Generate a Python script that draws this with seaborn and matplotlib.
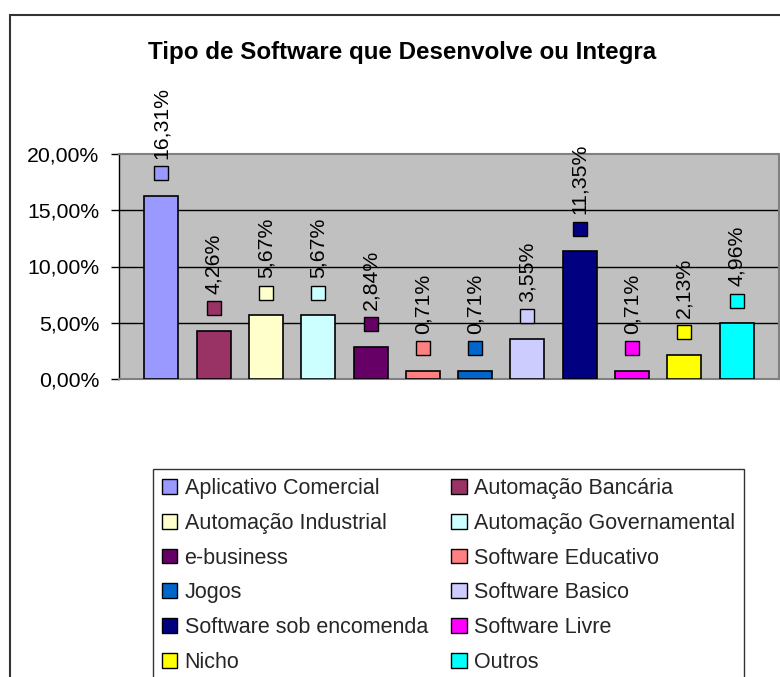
import numpy as np
import pandas as pd
import matplotlib
matplotlib.use("Agg")
import matplotlib.pyplot as plt
import matplotlib.patches as mpatches
from matplotlib.transforms import offset_copy
import seaborn as sns

# --- data ---
categories = [
    "Aplicativo Comercial", "Automação Bancária", "Automação Industrial",
    "Automação Governamental", "e-business", "Software Educativo", "Jogos",
    "Software Basico", "Software sob encomenda", "Software Livre", "Nicho", "Outros",
]
values = [16.31, 4.26, 5.67, 5.67, 2.84, 0.71, 0.71, 3.55, 11.35, 0.71, 2.13, 4.96]
colors = [
    "#9999FF", "#993366", "#FFFFCC", "#CCFFFF", "#660066", "#FF8080",
    "#0066CC", "#CCCCFF", "#000080", "#FF00FF", "#FFFF00", "#00FFFF",
]
y_ticks = [0, 5, 10, 15, 20]
title = "Tipo de Software que Desenvolve ou Integra"

df = pd.DataFrame({"tipo": categories, "pct": values})

sns.set_theme(style="white")
plt.rcParams["font.family"] = ["Liberation Sans", "DejaVu Sans"]

W, H = 780, 677
fig = plt.figure(figsize=(W / 100, H / 100), dpi=100)
ax = fig.add_axes([119 / W, (H - 379) / H, 660 / W, 225 / H])

sns.barplot(data=df, x="tipo", y="pct", hue="tipo", palette=colors,
            order=categories, hue_order=categories, dodge=False,
            width=0.65, edgecolor="black", linewidth=1.2, legend=False,
            saturation=1, ax=ax, zorder=3)

ax.set_facecolor("#C0C0C0")
ax.set_ylim(0, 20)
ax.set_xlim(-0.81, len(categories) - 1 + 0.81)
ax.set_yticks(y_ticks)
ax.set_yticklabels([f"{t:.2f}%".replace(".", ",") for t in y_ticks])
ax.set_xticks([])
ax.set_xlabel("")
ax.set_ylabel("")
ax.tick_params(axis="y", length=6, width=1, color="black", pad=8,
               labelsize=15.3, labelcolor="black", left=True)
for t in y_ticks[1:-1]:
    ax.axhline(t, color="black", linewidth=1, zorder=1)
for s in ["top", "right", "bottom"]:
    ax.spines[s].set_color("#808080")
    ax.spines[s].set_linewidth(1.5)
ax.spines["left"].set_color("black")
ax.spines["left"].set_linewidth(1)

# data labels: legend key square plus rotated text
x = np.arange(len(categories))
key_trans = offset_copy(ax.transData, fig=fig, x=0, y=16.3, units="points")
for i, v in enumerate(values):
    ax.plot(x[i], v, marker="s", markersize=9.5, markerfacecolor=colors[i],
            markeredgecolor="black", markeredgewidth=1, linestyle="none",
            transform=key_trans, clip_on=False, zorder=5)
    ax.annotate(f"{v:.2f}%".replace(".", ","), xy=(x[i], v), xytext=(0, 26.6),
                textcoords="offset points", rotation=90, ha="center", va="bottom",
                fontsize=15.3, color="black", annotation_clip=False, zorder=5)

# title
fig.text(402.5 / W, (H - 59.3) / H, title, ha="center", va="baseline",
         fontsize=17.4, fontweight="bold", color="black")

# outer chart frame (right and bottom edges fall outside the picture)
fig.patches.append(mpatches.Rectangle((10 / W, -0.2), 1.5, (H - 15) / H + 0.2,
                                      transform=fig.transFigure, fill=False,
                                      edgecolor="#333333", linewidth=1.5))

# legend, filled row by row like the original
handles = [mpatches.Patch(facecolor=c, edgecolor="black", linewidth=1) for c in colors]
order = list(range(0, 12, 2)) + list(range(1, 12, 2))
leg = fig.legend([handles[i] for i in order], [categories[i] for i in order],
                 ncol=2, loc="upper left", bbox_to_anchor=(152.7 / W, (H - 469) / H),
                 borderaxespad=0, fontsize=15.5, frameon=True, fancybox=False,
                 handlelength=0.7, handleheight=0.68, handletextpad=0.36,
                 columnspacing=1.1, labelspacing=0.64, borderpad=0.42)
leg.get_frame().set_edgecolor("black")
leg.get_frame().set_linewidth(1)
leg.get_frame().set_facecolor("white")

fig.savefig("out.png", dpi=100, facecolor="white")
